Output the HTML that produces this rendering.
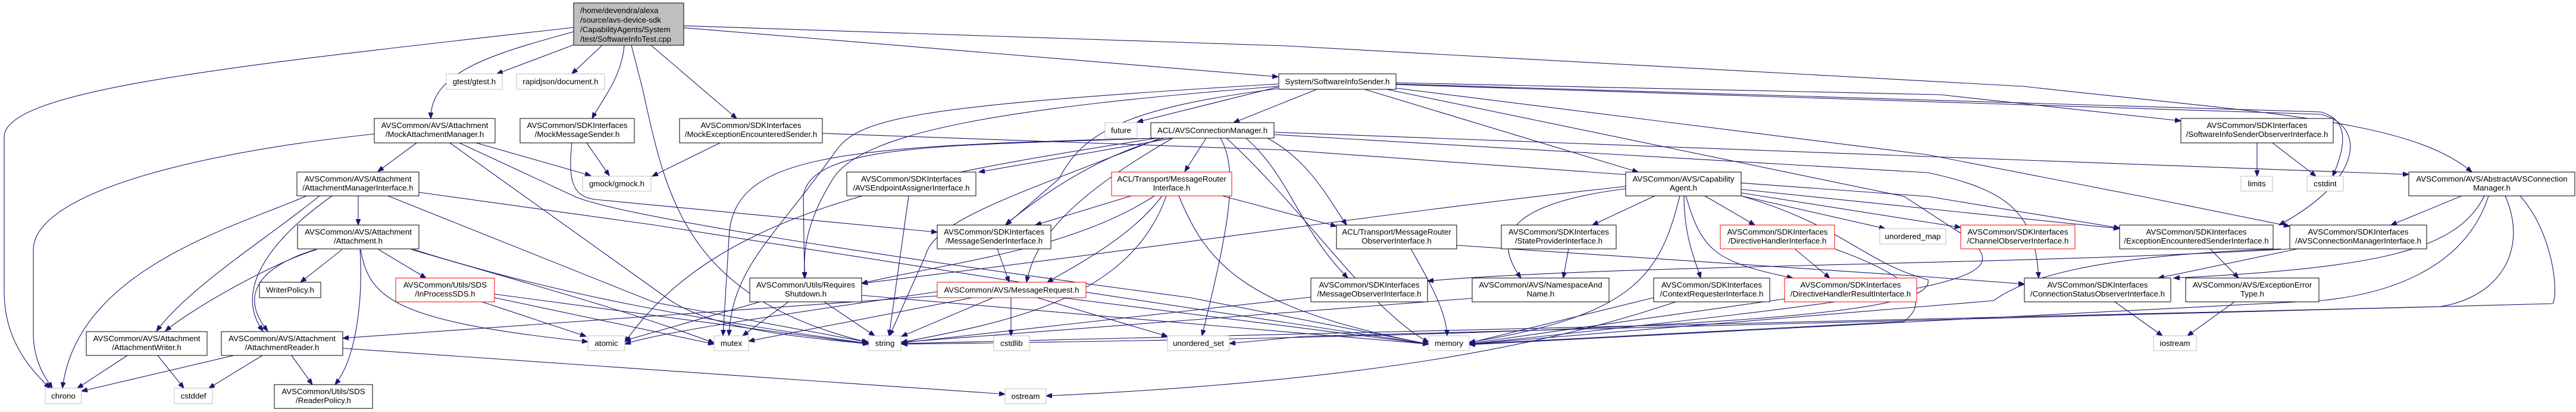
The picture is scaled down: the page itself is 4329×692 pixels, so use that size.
<!DOCTYPE html>
<html><head><meta charset="utf-8"><style>
html,body{margin:0;padding:0;background:#fff;}
svg{display:block;}
text{font-family:"Liberation Sans",Arial,sans-serif;font-size:13.3px;fill:#000;}
.e{fill:none;stroke:#191970;stroke-width:1.1;marker-end:url(#a);}
.n{fill:#fff;stroke:#000;stroke-width:1;}
.g{fill:#fff;stroke:#bfbfbf;stroke-width:1;}
.r{fill:#fff;stroke:#ff0000;stroke-width:1;}
</style></head><body>
<svg width="4329" height="692" viewBox="0 0 4329 692" xmlns="http://www.w3.org/2000/svg">
<defs><marker id="a" markerUnits="userSpaceOnUse" markerWidth="11" markerHeight="8" refX="10" refY="4" orient="auto"><path d="M0,0 L10,4 L0,8 z" fill="#191970" stroke="#191970"/></marker></defs>

<!-- edges -->
<g>
<!-- root -->
<path class="e" d="M965,46 C400,110 7,150 7,230 L7,490 C7,570 50,620 84,652"/>
<path class="e" d="M965,75 L835,124"/>
<path class="e" d="M1012,76 L961,124"/>
<path class="e" d="M965,53 C830,90 723,120 724,199"/>
<path class="e" d="M1049,76 C1045,130 1010,170 995,199"/>
<path class="e" d="M1061,76 L1080,150 C1120,330 1150,500 1458,575"/>
<path class="e" d="M1094,76 L1238,199"/>
<path class="e" d="M1142,46 L2148,129"/>
<path class="e" d="M1142,43 L2160,77 L3400,145 C3800,190 4050,200 4154,289"/>
<!-- MockExceptionEncounteredSender -->
<path class="e" d="M1210,240 L1096,296"/>
<path class="e" d="M1382,224 L2160,252 L3240,330 L3562,383"/>
<!-- MockAttachmentManager -->
<path class="e" d="M629,225 C300,260 56,330 56,420 L56,560 C56,610 80,640 88,652"/>
<path class="e" d="M700,240 L635,288"/>
<path class="e" d="M800,240 L993,295"/>
<path class="e" d="M756,240 L1120,500 C1200,560 1400,570 1460,578"/>
<path class="e" d="M772,240 L968,331 C1040,360 1400,420 2000,500 L2401,578"/>
<!-- MockMessageSender -->
<path class="e" d="M986,240 L1024,295"/>
<path class="e" d="M961,240 C955,300 960,330 1000,335 L1575,390"/>
<!-- SoftwareInfoSender -->
<path class="e" d="M2148,146 L1911,205"/>
<path class="e" d="M2213,150 L2073,206"/>
<path class="e" d="M2293,150 L2753,289"/>
<path class="e" d="M2148,141 C1500,180 1440,200 1400,260 C1300,400 1230,450 1225,564"/>
<path class="e" d="M2148,145 C1700,180 1450,220 1400,300 C1350,380 1350,430 1353,467"/>
<path class="e" d="M2148,149 C1900,180 1820,220 1780,300 L1690,378"/>
<path class="e" d="M2346,139 L3260,159 L3665,203"/>
<path class="e" d="M2346,141 L3900,188 C3945,200 3945,240 3920,296"/>
<path class="e" d="M2346,142 L3900,192 C3975,210 3975,300 3830,378"/>
<path class="e" d="M2330,150 L3200,330 L3300,395 C3400,470 3300,490 2469,578"/>
<path class="e" d="M2346,148 L3240,260 L3600,330 L3848,380"/>
<!-- ACL/AVSConnectionManager -->
<path class="e" d="M1971,232 L1645,289"/>
<path class="e" d="M2027,232 L1991,288"/>
<path class="e" d="M1957,232 C1850,260 1760,320 1690,377"/>
<path class="e" d="M1943,232 C1600,245 1360,240 1350,330 L1352,467"/>
<path class="e" d="M1950,232 C1400,245 1230,260 1225,400 L1215,564"/>
<path class="e" d="M1950,232 C1700,330 1570,370 1555,430 L1495,564"/>
<path class="e" d="M1971,232 C1800,330 1740,400 1725,474"/>
<path class="e" d="M2051,232 C2085,290 2060,400 2020,564"/>
<path class="e" d="M2061,232 C2200,360 2300,520 2401,575"/>
<path class="e" d="M2094,232 C2170,300 2180,380 2265,467"/>
<path class="e" d="M2130,232 C2200,270 2230,330 2263,378"/>
<path class="e" d="M2141,226 L3240,290 C3380,320 3420,360 3426,467"/>
<path class="e" d="M2141,222 L4048,293"/>
<path class="e" d="M1945,232 C1500,300 1200,360 1050,575"/>
<!-- MessageRouterInterface -->
<path class="e" d="M1901,329 L1740,378"/>
<path class="e" d="M1940,329 C1800,420 1600,440 1448,476"/>
<path class="e" d="M1953,329 C1900,400 1800,450 1760,474"/>
<path class="e" d="M1960,329 C1900,500 1700,540 1515,575"/>
<path class="e" d="M2054,329 L2246,380"/>
<path class="e" d="M1981,329 C2030,450 2100,520 2401,578"/>
<!-- MessageSenderInterface -->
<path class="e" d="M1676,418 L1696,474"/>
<!-- MessageRequest -->
<path class="e" d="M1634,500 L1258,573"/>
<path class="e" d="M1669,500 L1515,565"/>
<path class="e" d="M1699,500 L1699,564"/>
<path class="e" d="M1743,500 L1962,565"/>
<path class="e" d="M1785,500 L2401,578"/>
<path class="e" d="M1575,497 L576,568"/>
<path class="e" d="M1575,490 C1300,530 1100,560 1050,578"/>
<!-- RequiresShutdown -->
<path class="e" d="M1325,507 L1248,564"/>
<path class="e" d="M1385,507 L1470,564"/>
<path class="e" d="M1448,496 L2401,578"/>
<path class="e" d="M1277,507 L1050,572"/>
<!-- AVSEndpointAssigner -->
<path class="e" d="M1527,329 L1494,564"/>
<!-- AttachmentManagerInterface -->
<path class="e" d="M515,329 C400,380 130,450 105,652"/>
<path class="e" d="M537,329 C450,400 320,480 263,556"/>
<path class="e" d="M558,329 C430,420 400,500 442,556"/>
<path class="e" d="M602,329 L602,378"/>
<path class="e" d="M704,323 L1100,378 C1500,440 2000,520 2401,578"/>
<path class="e" d="M652,329 L1100,508 L1460,575"/>
<!-- Attachment -->
<path class="e" d="M575,419 L505,474"/>
<path class="e" d="M636,419 L716,467"/>
<path class="e" d="M533,419 C460,440 320,520 278,556"/>
<path class="e" d="M530,419 C400,460 420,520 450,556"/>
<path class="e" d="M605,419 C610,500 600,600 563,646"/>
<path class="e" d="M606,419 C620,500 660,540 988,574"/>
<path class="e" d="M691,419 C900,480 1050,520 1200,576"/>
<path class="e" d="M695,419 C950,500 1200,540 1460,577"/>
<!-- InProcessSDS -->
<path class="e" d="M810,507 L985,565"/>
<path class="e" d="M831,500 L1200,578"/>
<path class="e" d="M831,494 L1460,578"/>
<!-- AttachmentWriter / Reader -->
<path class="e" d="M214,597 L130,652"/>
<path class="e" d="M265,597 L309,652"/>
<path class="e" d="M393,597 L137,657"/>
<path class="e" d="M441,597 L351,652"/>
<path class="e" d="M490,597 L525,646"/>
<path class="e" d="M576,585 L1689,662"/>
<!-- CapabilityAgent -->
<path class="e" d="M2781,329 L2676,378"/>
<path class="e" d="M2732,317 C2550,340 2500,390 2556,467"/>
<path class="e" d="M2732,313 C2300,360 2000,410 1448,476"/>
<path class="e" d="M2865,329 L2949,378"/>
<path class="e" d="M2830,329 C2830,400 2850,440 2858,467"/>
<path class="e" d="M2833,329 C2860,420 2880,440 3013,467"/>
<path class="e" d="M2823,329 C2790,460 2750,530 2469,575"/>
<path class="e" d="M2926,329 L3168,384"/>
<path class="e" d="M2926,324 L3295,382"/>
<path class="e" d="M2926,318 L3562,384"/>
<path class="e" d="M2926,329 C3100,380 3130,440 3240,470 C3250,520 3000,560 1515,578"/>
<!-- StateProvider / MR observer / others -->
<path class="e" d="M2636,418 L2627,467"/>
<path class="e" d="M2371,418 C2400,470 2430,520 2432,564"/>
<path class="e" d="M2448,412 L3240,465 L3402,477"/>
<path class="e" d="M3016,418 L3075,467"/>
<path class="e" d="M3083,418 C3200,460 3250,500 3200,540 L2469,578"/>
<path class="e" d="M2474,501 L1514,575"/>
<path class="e" d="M2816,507 C2600,580 2300,640 1758,665"/>
<path class="e" d="M2779,500 L2469,576"/>
<path class="e" d="M2999,502 L2469,577"/>
<path class="e" d="M2203,499 L1514,576"/>
<path class="e" d="M3848,418 C3400,445 2700,445 2399,472"/>
<!-- right side -->
<path class="e" d="M3714,418 L3762,467"/>
<path class="e" d="M3554,507 L3634,564"/>
<path class="e" d="M3755,507 L3676,564"/>
<path class="e" d="M3861,418 L3627,467"/>
<path class="e" d="M3833,418 C3500,430 3400,470 3350,505 L2469,578"/>
<path class="e" d="M4137,329 L4018,378"/>
<path class="e" d="M4175,329 C4130,420 4000,450 3653,467"/>
<path class="e" d="M4182,329 C4150,430 4050,490 3900,505 L2469,579"/>
<path class="e" d="M4210,329 C4250,420 4200,500 4100,515 L1515,577"/>
<path class="e" d="M4235,329 C4290,390 4300,490 4290,510 L2190,565 L2066,577"/>
<path class="e" d="M3793,240 L3793,296"/>
<path class="e" d="M3819,240 L3892,296"/>
</g>

<!-- nodes -->
<rect x="964" y="5" width="185" height="71" fill="#bfbfbf" stroke="#000"/>
<text x="975" y="22">/home/devendra/alexa</text>
<text x="975" y="38">/source/avs-device-sdk</text>
<text x="975" y="54">/CapabilityAgents/System</text>
<text x="975" y="70">/test/SoftwareInfoTest.cpp</text>

<g text-anchor="middle">
<rect class="g" x="750" y="124" width="94" height="26"/><text x="797" y="141.5">gtest/gtest.h</text>
<rect class="g" x="868" y="124" width="148" height="26"/><text x="942" y="141.5">rapidjson/document.h</text>
<rect class="n" x="629" y="199" width="203" height="41"/><text x="730.5" y="215">AVSCommon/AVS/Attachment</text><text x="730.5" y="230">/MockAttachmentManager.h</text>
<rect class="n" x="874" y="199" width="192" height="41"/><text x="970" y="215">AVSCommon/SDKInterfaces</text><text x="970" y="230">/MockMessageSender.h</text>
<rect class="n" x="1142" y="199" width="240" height="41"/><text x="1262" y="215">AVSCommon/SDKInterfaces</text><text x="1262" y="230">/MockExceptionEncounteredSender.h</text>
<rect class="g" x="979" y="296" width="115" height="25"/><text x="1036.5" y="313">gmock/gmock.h</text>
<rect class="n" x="499" y="289" width="205" height="40"/><text x="601.5" y="305">AVSCommon/AVS/Attachment</text><text x="601.5" y="320">/AttachmentManagerInterface.h</text>
<rect class="n" x="500" y="378" width="204" height="40"/><text x="602" y="394">AVSCommon/AVS/Attachment</text><text x="602" y="409">/Attachment.h</text>
<rect class="n" x="436" y="474" width="103" height="26"/><text x="487.5" y="491.5">WriterPolicy.h</text>
<rect class="r" x="665" y="467" width="166" height="40"/><text x="748" y="483">AVSCommon/Utils/SDS</text><text x="748" y="498">/InProcessSDS.h</text>
<rect class="n" x="145" y="557" width="203" height="40"/><text x="246.5" y="573">AVSCommon/AVS/Attachment</text><text x="246.5" y="588">/AttachmentWriter.h</text>
<rect class="n" x="372" y="557" width="204" height="40"/><text x="474" y="573">AVSCommon/AVS/Attachment</text><text x="474" y="588">/AttachmentReader.h</text>
<rect class="g" x="76" y="652" width="61" height="26"/><text x="106.5" y="669.5">chrono</text>
<rect class="g" x="293" y="652" width="64" height="26"/><text x="325" y="669.5">cstddef</text>
<rect class="n" x="461" y="646" width="165" height="40"/><text x="543.5" y="662">AVSCommon/Utils/SDS</text><text x="543.5" y="677">/ReaderPolicy.h</text>
<rect class="g" x="988" y="564" width="62" height="25"/><text x="1019" y="581">atomic</text>

<rect class="g" x="1857" y="206" width="54" height="26"/><text x="1884" y="223.5">future</text>
<rect class="n" x="1934" y="206" width="207" height="26"/><text x="2037.5" y="223.5">ACL/AVSConnectionManager.h</text>
<rect class="n" x="1423" y="289" width="217" height="40"/><text x="1531.5" y="305">AVSCommon/SDKInterfaces</text><text x="1531.5" y="320">/AVSEndpointAssignerInterface.h</text>
<rect class="r" x="1868" y="289" width="202" height="40"/><text x="1969" y="305">ACL/Transport/MessageRouter</text><text x="1969" y="320">Interface.h</text>
<rect class="n" x="1575" y="378" width="191" height="40"/><text x="1670.5" y="394">AVSCommon/SDKInterfaces</text><text x="1670.5" y="409">/MessageSenderInterface.h</text>
<rect class="n" x="1260" y="467" width="188" height="40"/><text x="1354" y="483">AVSCommon/Utils/Requires</text><text x="1354" y="498">Shutdown.h</text>
<rect class="r" x="1575" y="474" width="250" height="26"/><text x="1700" y="491.5">AVSCommon/AVS/MessageRequest.h</text>
<rect class="g" x="1200" y="564" width="58" height="25"/><text x="1229" y="581">mutex</text>
<rect class="g" x="1460" y="564" width="54" height="25"/><text x="1487" y="581">string</text>
<rect class="g" x="1670" y="564" width="60" height="25"/><text x="1700" y="581">cstdlib</text>
<rect class="g" x="1962" y="564" width="104" height="25"/><text x="2014" y="581">unordered_set</text>
<rect class="g" x="1689" y="653" width="69" height="25"/><text x="1723.5" y="670">ostream</text>
<rect class="n" x="2149" y="124" width="197" height="26"/><text x="2247.5" y="141.5">System/SoftwareInfoSender.h</text>

<rect class="n" x="2732" y="289" width="194" height="40"/><text x="2829" y="305">AVSCommon/AVS/Capability</text><text x="2829" y="320">Agent.h</text>
<rect class="n" x="2246" y="378" width="202" height="40"/><text x="2347" y="394">ACL/Transport/MessageRouter</text><text x="2347" y="409">ObserverInterface.h</text>
<rect class="n" x="2523" y="378" width="193" height="40"/><text x="2619.5" y="394">AVSCommon/SDKInterfaces</text><text x="2619.5" y="409">/StateProviderInterface.h</text>
<rect class="r" x="2891" y="378" width="192" height="40"/><text x="2987" y="394">AVSCommon/SDKInterfaces</text><text x="2987" y="409">/DirectiveHandlerInterface.h</text>
<rect class="g" x="3159" y="384" width="111" height="26"/><text x="3214.5" y="401.5">unordered_map</text>
<rect class="n" x="2203" y="467" width="196" height="40"/><text x="2301" y="483">AVSCommon/SDKInterfaces</text><text x="2301" y="498">/MessageObserverInterface.h</text>
<rect class="n" x="2474" y="467" width="230" height="40"/><text x="2589" y="483">AVSCommon/AVS/NamespaceAnd</text><text x="2589" y="498">Name.h</text>
<rect class="n" x="2779" y="467" width="195" height="40"/><text x="2876.5" y="483">AVSCommon/SDKInterfaces</text><text x="2876.5" y="498">/ContextRequesterInterface.h</text>
<rect class="r" x="2999" y="467" width="222" height="40"/><text x="3110" y="483">AVSCommon/SDKInterfaces</text><text x="3110" y="498">/DirectiveHandlerResultInterface.h</text>
<rect class="g" x="2401" y="564" width="68" height="25"/><text x="2435" y="581">memory</text>

<rect class="n" x="3665" y="199" width="256" height="41"/><text x="3793" y="215">AVSCommon/SDKInterfaces</text><text x="3793" y="230">/SoftwareInfoSenderObserverInterface.h</text>
<rect class="g" x="3766" y="296" width="53" height="25"/><text x="3792.5" y="313">limits</text>
<rect class="g" x="3877" y="296" width="61" height="25"/><text x="3907.5" y="313">cstdint</text>
<rect class="n" x="4048" y="289" width="279" height="40"/><text x="4187.5" y="305">AVSCommon/AVS/AbstractAVSConnection</text><text x="4187.5" y="320">Manager.h</text>
<rect class="r" x="3295" y="378" width="192" height="40"/><text x="3391" y="394">AVSCommon/SDKInterfaces</text><text x="3391" y="409">/ChannelObserverInterface.h</text>
<rect class="n" x="3562" y="378" width="258" height="40"/><text x="3691" y="394">AVSCommon/SDKInterfaces</text><text x="3691" y="409">/ExceptionEncounteredSenderInterface.h</text>
<rect class="n" x="3848" y="378" width="230" height="40"/><text x="3963" y="394">AVSCommon/SDKInterfaces</text><text x="3963" y="409">/AVSConnectionManagerInterface.h</text>
<rect class="n" x="3402" y="467" width="246" height="40"/><text x="3525" y="483">AVSCommon/SDKInterfaces</text><text x="3525" y="498">/ConnectionStatusObserverInterface.h</text>
<rect class="n" x="3673" y="467" width="224" height="40"/><text x="3785" y="483">AVSCommon/AVS/ExceptionError</text><text x="3785" y="498">Type.h</text>
<rect class="g" x="3619" y="564" width="72" height="25"/><text x="3655" y="581">iostream</text>
</g>
</svg>
</body></html>
